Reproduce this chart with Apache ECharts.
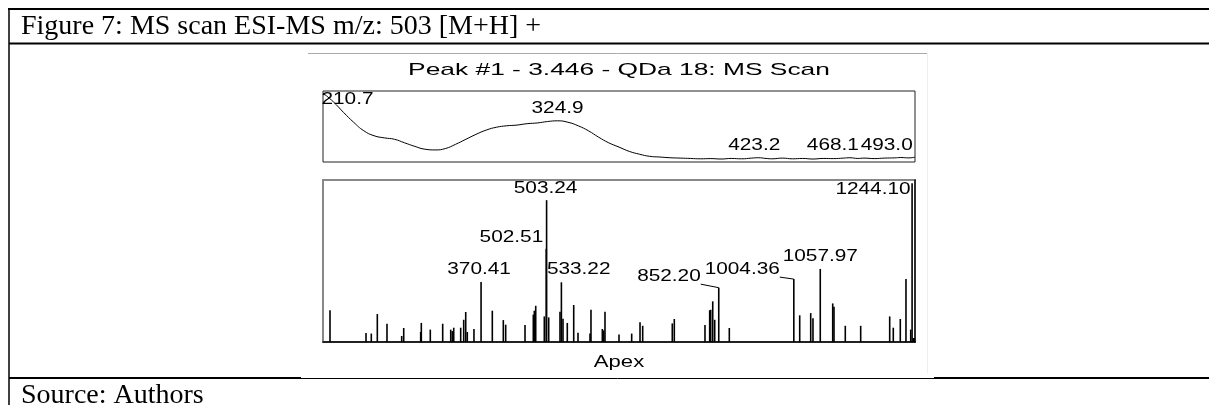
<!DOCTYPE html>
<html><head><meta charset="utf-8">
<script src="https://cdn.jsdelivr.net/npm/echarts@6/dist/echarts.min.js"></script>
<style>html,body{margin:0;padding:0;background:#fff}#c{width:1209px;height:405px}</style>
</head><body><div id="c"></div>
<script>
// ---- texts ----
const captionText = 'Figure 7: MS scan ESI-MS m/z: 503 [M+H] +';
const sourceText = 'Source: Authors';
const chartTitle = 'Peak #1 - 3.446 - QDa 18: MS Scan';
const msAxisName = 'Apex';

// ---- UV spectrum (nm, relative absorbance) ----
const uvWavelength = [210,215,220,225,230,235,240,245,250,255,260,265,270,275,280,285,290,295,300,305,310,315,320,325,330,335,340,345,350,355,360,365,370,375,380,385,390,395,400,405,410,415,420,423.2,427,430,435,440,445,450,455,460,465,468.1,472,475,480,485,490,493,497,500];
const uvAbsorbance = [97,85,70,56,44,37,34,32,27,22,18,17,19,25,32,39,45,49,51,52,54,55,57,58,56,51,44,35,27,21,15,11,8,7,6,5.5,5,4.5,4.8,4.2,5,4.5,5.5,6,5,4.5,5.5,4.5,5,4.2,5,4.8,5.5,6,5,5.5,4.8,5.5,5.8,6.3,5.8,6.8];
const uvPeakWavelength = [210.7, 324.9, 423.2, 468.1, 493.0];
const uvPeakAbsorbance = [97, 58, 6, 6, 6.3];
const uvPeakLabels = ['210.7', '324.9', '423.2', '468.1', '493.0'];

// ---- MS spectrum (m/z, relative intensity) ----
const msMz = [64.2,137.2,147.9,160.1,179.7,209.5,213.6,248,249.3,267.5,292.6,308.9,312.1,315,329.1,335.2,339.3,342.5,356,370.41,393.2,415.5,420.3,459.5,476.3,478.3,481.2,498.6,502.51,503.24,507.5,530.4,533.22,536.5,545.2,558.2,566.9,591.2,593.2,616.2,619,621.6,650,675.7,692.6,698,758,762.1,824.3,833.8,835.9,840,844,852.20,873.6,1004.36,1016.3,1038.6,1043.2,1057.97,1083.2,1085.8,1108.7,1139.9,1198.7,1206,1220.2,1231.7,1241.3,1244.10,1246.5,1248.5];
const msIntensity = [20,5.6,5.3,17.6,11.5,3.8,8.8,6.3,12,7.8,11.5,7.8,6.9,9,9,14,18.9,6.3,8.2,37.8,19.7,13.8,10.9,10.7,17.2,19.7,22.8,16.1,58.7,89.3,15.5,19,37.6,14.7,12,23.3,5.9,5.3,20.3,8.2,7.3,19,4.8,5.3,12.4,10.2,11.7,14.5,10.7,20,20.3,25.6,14,34.2,8.8,39.6,16.8,18.2,14.9,46,24.3,22.2,10.2,10.2,16.1,9,14.5,39.6,7.8,100,2.5,2.5];
const msPeakMz = [370.41, 502.51, 503.24, 533.22, 852.20, 1004.36, 1057.97, 1244.10];
const msPeakIntensity = [37.8, 58.7, 89.3, 37.6, 34.2, 39.6, 46, 100];
const msPeakLabels = ['370.41', '502.51', '503.24', '533.22', '852.20', '1004.36', '1057.97', '1244.10'];

// ---- label placement (styles only) ----
const uvLabelPlace = [
  {align:'left', dx:-3, dy:6},
  {align:'center', dx:0, dy:-12},
  {align:'center', dx:-4, dy:-12},
  {align:'right', dx:9, dy:-12},
  {align:'right', dx:12, dy:-12}
];
const msLabelPlace = [
  {align:'center', dx:-2, dy:-12},
  {align:'right', dx:-3, dy:-11},
  {align:'center', dx:-1, dy:-11.5},
  {align:'left', dx:-14.5, dy:-12.5},
  {align:'right', dx:-18, dy:-11, leader:7.5},
  {align:'right', dx:-14, dy:-10, leader:8},
  {align:'center', dx:0, dy:-12.3},
  {align:'right', dx:-1.5, dy:6.7}
];
const LABEL_FONT = '16px "Liberation Sans", Arial, sans-serif';
const LABEL_SX = 1.3;

function labelEl(txt, px, py, p) {
  return {
    type: 'text', x: px + p.dx, y: py + p.dy, scaleX: LABEL_SX,
    style: {text: txt, font: LABEL_FONT, fill: '#000',
            textAlign: p.align, align: p.align,
            textVerticalAlign: 'middle', verticalAlign: 'middle'}
  };
}

const chart = echarts.init(document.getElementById('c'), null, {renderer: 'canvas'});
const option = {
  animation: false,
  backgroundColor: '#fff',
  graphic: [
    {type:'rect', z:-10, shape:{x:300, y:46, width:627, height:332}, style:{fill:'#fff'}},
    {type:'line', z:1, shape:{x1:8, y1:9, x2:1209, y2:9}, style:{stroke:'#000', lineWidth:2}},
    {type:'line', z:1, shape:{x1:9, y1:8, x2:9, y2:405}, style:{stroke:'#000', lineWidth:1.5}},
    {type:'line', z:1, shape:{x1:9, y1:43.5, x2:1209, y2:43.5}, style:{stroke:'#000', lineWidth:2}},
    {type:'line', z:1, shape:{x1:9, y1:378, x2:301, y2:378}, style:{stroke:'#000', lineWidth:2}},
    {type:'line', z:1, shape:{x1:301, y1:378.5, x2:934, y2:378.5}, style:{stroke:'#000', lineWidth:1}},
    {type:'line', z:1, shape:{x1:934, y1:378, x2:1209, y2:378}, style:{stroke:'#000', lineWidth:2}},
    {type:'line', z:1, shape:{x1:308, y1:53.5, x2:927, y2:53.5}, style:{stroke:'#aaa', lineWidth:1}},
    {type:'line', z:1, shape:{x1:927.5, y1:53, x2:927.5, y2:373}, style:{stroke:'#eeeeee', lineWidth:1}},
    {type:'text', z:5, x:21, y:41, style:{text:captionText, font:'28px "Liberation Serif", "Times New Roman", serif', fill:'#000', textAlign:'left', textVerticalAlign:'bottom'}},
    {type:'text', z:5, x:21, y:410, style:{text:sourceText, font:'28px "Liberation Serif", "Times New Roman", serif', fill:'#000', textAlign:'left', textVerticalAlign:'bottom'}},
    {type:'text', z:5, x:619, y:70, scaleX:1.55, style:{text:chartTitle, font:'17px "Liberation Sans", Arial, sans-serif', fill:'#000', textAlign:'center', textVerticalAlign:'middle'}},
    {type:'text', z:5, x:619, y:362, scaleX:1.3, style:{text:msAxisName, font:'17px "Liberation Sans", Arial, sans-serif', fill:'#000', textAlign:'center', textVerticalAlign:'middle'}}
  ],
  grid: [
    {left:323, top:91, width:592, height:71, show:true, borderColor:'#222', borderWidth:1, backgroundColor:'transparent'},
    {left:323, top:180, width:592, height:162, show:true, borderColor:'#888', borderWidth:2, backgroundColor:'transparent'}
  ],
  xAxis: [
    {type:'value', gridIndex:0, min:210, max:500, show:false},
    {type:'value', gridIndex:1, min:50, max:1250, axisLine:{show:true, onZero:true, lineStyle:{color:'#000', width:1.5}}, axisTick:{show:false}, axisLabel:{show:false}, splitLine:{show:false}}
  ],
  yAxis: [
    {type:'value', gridIndex:0, min:0, max:100, show:false},
    {type:'value', gridIndex:1, min:0, max:102, position:'right', axisLine:{show:true, lineStyle:{color:'#111', width:1.5}}, axisTick:{show:false}, axisLabel:{show:false}, splitLine:{show:false}}
  ],
  series: [
    {
      type:'line', xAxisIndex:0, yAxisIndex:0, smooth:0.5, symbol:'none',
      lineStyle:{color:'#000', width:1}, data: uvWavelength.map((w,i)=>[w, uvAbsorbance[i]]), z:3
    },
    {
      type:'custom', xAxisIndex:0, yAxisIndex:0, z:6,
      data: uvPeakWavelength.map((w,i)=>[w, uvPeakAbsorbance[i], i]),
      renderItem: function(params, api) {
        const i = api.value(2);
        const pt = api.coord([api.value(0), api.value(1)]);
        return labelEl(uvPeakLabels[i], pt[0], pt[1], uvLabelPlace[i]);
      }
    },
    {
      type:'custom', xAxisIndex:1, yAxisIndex:1, z:4,
      data: msMz.map((m,i)=>[m, msIntensity[i]]),
      renderItem: function(params, api) {
        const top = api.coord([api.value(0), api.value(1)]);
        const base = api.coord([api.value(0), 0]);
        return {type:'line', shape:{x1:top[0], y1:top[1], x2:base[0], y2:base[1]}, style:{stroke:'#000', lineWidth:1.6}};
      }
    },
    {
      type:'custom', xAxisIndex:1, yAxisIndex:1, z:6,
      data: msPeakMz.map((m,i)=>[m, msPeakIntensity[i], i]),
      renderItem: function(params, api) {
        const i = api.value(2);
        const p = msLabelPlace[i];
        const pt = api.coord([api.value(0), api.value(1)]);
        const children = [labelEl(msPeakLabels[i], pt[0], pt[1], p)];
        if (p.leader) {
          children.push({type:'line', shape:{x1:pt[0]+p.dx, y1:pt[1]+p.dy+p.leader, x2:pt[0], y2:pt[1]}, style:{stroke:'#000', lineWidth:1}});
        }
        return {type:'group', children: children};
      }
    }
  ]
};
chart.setOption(option);
</script>
</body></html>
